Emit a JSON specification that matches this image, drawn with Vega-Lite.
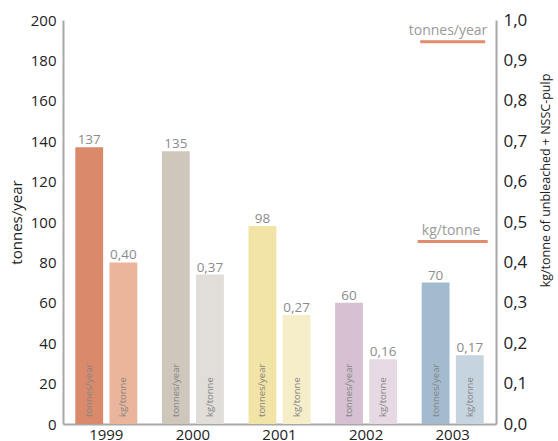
{
  "$schema": "https://vega.github.io/schema/vega-lite/v6.json",
  "width": 433,
  "height": 404,
  "autosize": "none",
  "padding": {"left": 63, "top": 20, "right": 62, "bottom": 17},
  "config": {
    "font": "Open Sans",
    "view": {"stroke": null},
    "locale": {"number": {"decimal": ",", "thousands": " ", "grouping": [3], "currency": ["", ""]}},
    "axis": {
      "domainColor": "#a8a8a8",
      "domainWidth": 2,
      "ticks": false,
      "grid": false,
      "labelColor": "#222222",
      "titleColor": "#222222",
      "titleFontWeight": "normal"
    }
  },
  "datasets": {
    "emissions": [
      {"year": "1999", "tonnes": 137, "kg": 0.40},
      {"year": "2000", "tonnes": 135, "kg": 0.37},
      {"year": "2001", "tonnes": 98, "kg": 0.27},
      {"year": "2002", "tonnes": 60, "kg": 0.16},
      {"year": "2003", "tonnes": 70, "kg": 0.17}
    ],
    "keys": [
      {"year": "2003", "label": "tonnes/year", "level": 0.946},
      {"year": "2003", "label": "kg/tonne", "level": 0.452}
    ]
  },
  "data": {"name": "emissions"},
  "encoding": {
    "x": {
      "field": "year",
      "type": "nominal",
      "scale": {"paddingInner": 0, "paddingOuter": 0},
      "axis": {"title": null, "labelAngle": 0, "labelFontSize": 15, "labelPadding": 3}
    }
  },
  "layer": [
    {
      "layer": [
        {
          "mark": {"type": "bar"},
          "encoding": {
            "y": {
              "field": "tonnes",
              "type": "quantitative",
              "scale": {"domain": [0, 200]},
              "axis": {
                "title": "tonnes/year",
                "values": [0, 20, 40, 60, 80, 100, 120, 140, 160, 180, 200],
                "labelFontSize": 15,
                "labelPadding": 7,
                "titleFontSize": 15,
                "titlePadding": 6
              }
            },
            "xOffset": {"datum": "t", "scale": {"domain": ["t", "k"], "paddingInner": 0.185, "paddingOuter": 0.36}},
            "color": {
              "field": "year",
              "type": "nominal",
              "scale": {
                "domain": ["1999", "2000", "2001", "2002", "2003"],
                "range": ["#DA8A6B", "#CFC7BC", "#F2E3A6", "#D6C0D2", "#A3BBCE"]
              },
              "legend": null
            }
          }
        },
        {
          "mark": {"type": "text", "baseline": "alphabetic", "dy": -3, "fontSize": 13.5, "color": "#8c8c8c"},
          "encoding": {
            "y": {"field": "tonnes", "type": "quantitative"},
            "xOffset": {"datum": "t"},
            "text": {"field": "tonnes", "type": "quantitative", "format": "d"}
          }
        },
        {
          "mark": {"type": "text", "angle": 270, "align": "left", "baseline": "middle", "dx": 7, "fontSize": 9.5, "color": "#858585"},
          "encoding": {
            "y": {"datum": 0, "type": "quantitative"},
            "xOffset": {"datum": "t"},
            "text": {"value": "tonnes/year"}
          }
        }
      ]
    },
    {
      "layer": [
        {
          "mark": {"type": "bar"},
          "encoding": {
            "y": {
              "field": "kg",
              "type": "quantitative",
              "scale": {"domain": [0, 1]},
              "axis": {
                "orient": "right",
                "title": "kg/tonne of unbleached + NSSC-pulp",
                "titleAngle": 270,
                "titleBaseline": "top",
                "titleAlign": "center",
                "titleY": 160,
                "format": ".1f",
                "values": [0, 0.1, 0.2, 0.3, 0.4, 0.5, 0.6, 0.7, 0.8, 0.9, 1],
                "labelFontSize": 17,
                "labelPadding": 7,
                "titleFontSize": 12.5,
                "titlePadding": 13
              }
            },
            "xOffset": {"datum": "k"},
            "color": {
              "field": "year",
              "type": "nominal",
              "scale": {
                "domain": ["1999", "2000", "2001", "2002", "2003"],
                "range": ["#EAB59B", "#E1DEDA", "#F5EEC8", "#E6D9E4", "#C6D4E0"]
              },
              "legend": null
            }
          }
        },
        {
          "mark": {"type": "text", "baseline": "alphabetic", "dy": -3, "fontSize": 13.5, "color": "#8c8c8c"},
          "encoding": {
            "y": {"field": "kg", "type": "quantitative"},
            "xOffset": {"datum": "k"},
            "text": {"field": "kg", "type": "quantitative", "format": ".2f"}
          }
        },
        {
          "mark": {"type": "text", "angle": 270, "align": "left", "baseline": "middle", "dx": 7, "fontSize": 9.5, "color": "#858585"},
          "encoding": {
            "y": {"datum": 0, "type": "quantitative"},
            "xOffset": {"datum": "k"},
            "text": {"value": "kg/tonne"}
          }
        },
        {
          "data": {"name": "keys"},
          "transform": [{"filter": "datum.label === 'tonnes/year'"}],
          "layer": [
            {
              "mark": {"type": "tick", "orient": "horizontal", "size": 65, "thickness": 3, "color": "#E38B6D", "opacity": 1},
              "encoding": {
                "x": {"field": "year", "type": "nominal", "bandPosition": 0.55},
                "y": {"field": "level", "type": "quantitative"}
              }
            },
            {
              "mark": {"type": "text", "baseline": "alphabetic", "dx": -9, "dy": -7, "fontSize": 14, "color": "#9a9a9a"},
              "encoding": {
                "x": {"field": "year", "type": "nominal", "bandPosition": 0.55},
                "y": {"field": "level", "type": "quantitative"},
                "text": {"field": "label"}
              }
            }
          ]
        },
        {
          "data": {"name": "keys"},
          "transform": [{"filter": "datum.label === 'kg/tonne'"}],
          "layer": [
            {
              "mark": {"type": "tick", "orient": "horizontal", "size": 70, "thickness": 3, "color": "#E38B6D", "opacity": 1},
              "encoding": {
                "x": {"field": "year", "type": "nominal", "bandPosition": 0.51},
                "y": {"field": "level", "type": "quantitative"}
              }
            },
            {
              "mark": {"type": "text", "baseline": "alphabetic", "dx": -2.5, "dy": -6, "fontSize": 14, "color": "#9a9a9a"},
              "encoding": {
                "x": {"field": "year", "type": "nominal", "bandPosition": 0.51},
                "y": {"field": "level", "type": "quantitative"},
                "text": {"field": "label"}
              }
            }
          ]
        }
      ]
    }
  ],
  "resolve": {"scale": {"y": "independent", "color": "independent"}}
}
